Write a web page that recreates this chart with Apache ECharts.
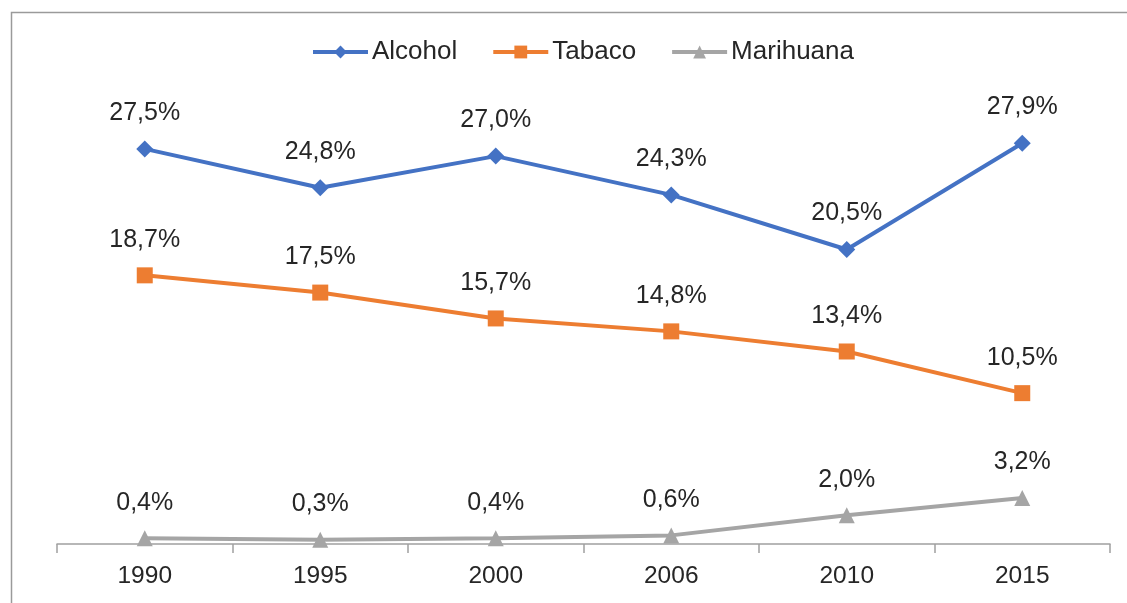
<!DOCTYPE html>
<html>
<head>
<meta charset="utf-8">
<script src="https://cdn.jsdelivr.net/npm/echarts@6/dist/echarts.min.js"></script>
<style>
html,body{margin:0;padding:0;background:#fff;}
#chart{width:1127px;height:603px;}
</style>
</head>
<body>
<div id="chart"></div>
<script>
const categories = ['1990', '1995', '2000', '2006', '2010', '2015'];
const alcohol = [27.5, 24.8, 27.0, 24.3, 20.5, 27.9];
const tabaco = [18.7, 17.5, 15.7, 14.8, 13.4, 10.5];
const marihuana = [0.4, 0.3, 0.4, 0.6, 2.0, 3.2];
const seriesNames = ['Alcohol', 'Tabaco', 'Marihuana'];

const fontFamily = '"Liberation Sans", Arial, sans-serif';
const textColor = '#262626';
const fmt = p => p.value.toFixed(1).replace('.', ',') + '%';

function mk(name, data, color, symbol, size) {
  return {
    name: name,
    type: 'line',
    data: data,
    symbol: symbol,
    symbolSize: size,
    lineStyle: { color: color, width: 4 },
    itemStyle: { color: color },
    label: {
      show: true,
      position: 'top',
      distance: 15,
      formatter: fmt,
      fontFamily: fontFamily,
      fontSize: 25,
      color: textColor
    },
    emphasis: { disabled: true },
    animation: false
  };
}

const chart = echarts.init(document.getElementById('chart'), null, { renderer: 'canvas' });
chart.setOption({
  backgroundColor: '#fff',
  animation: false,
  graphic: [{
    type: 'rect',
    shape: { x: 11.5, y: 12.5, width: 2000, height: 2000 },
    style: { fill: 'none', stroke: '#9a9a9a', lineWidth: 1.5 },
    silent: true
  }],
  legend: {
    top: 34,
    left: 306,
    itemWidth: 55,
    itemHeight: 16,
    itemGap: 34,
    lineStyle: { width: 4 },
    textStyle: { fontFamily: fontFamily, fontSize: 26, color: textColor, padding: [0, 0, 0, -1] },
    data: seriesNames
  },
  grid: { left: 57, right: 17, top: 113, bottom: 59 },
  xAxis: {
    type: 'category',
    data: categories,
    boundaryGap: true,
    axisLine: { lineStyle: { color: '#a0a0a0', width: 1.5 } },
    axisTick: { show: true, length: 9, lineStyle: { color: '#a0a0a0', width: 1.5 } },
    axisLabel: { fontFamily: fontFamily, fontSize: 24.5, color: textColor, margin: 20 }
  },
  yAxis: {
    type: 'value',
    min: 0,
    max: 30,
    show: false,
    splitLine: { show: false }
  },
  series: [
    mk(seriesNames[0], alcohol, '#4472C4', 'diamond', 17),
    mk(seriesNames[1], tabaco, '#ED7D31', 'rect', 16),
    mk(seriesNames[2], marihuana, '#A5A5A5', 'triangle', 16)
  ]
});
</script>
</body>
</html>
